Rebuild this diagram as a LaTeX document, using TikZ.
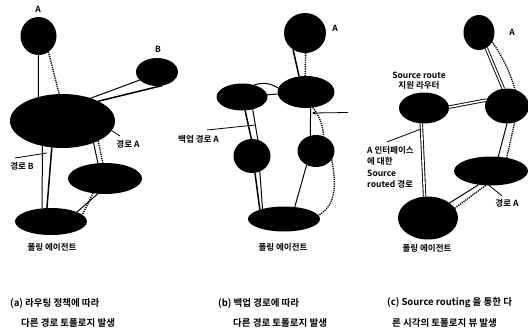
\documentclass[tikz,border=0pt]{standalone}
\usepackage{fontspec}
\setmainfont{Noto Sans CJK KR}[BoldFont={Noto Sans CJK KR Bold}]
\usetikzlibrary{shapes.geometric,arrows.meta}
\begin{document}
\begin{tikzpicture}[x=1pt,y=1pt,
  blob/.style={ellipse, fill=black, draw=none, inner sep=0pt, outer sep=0pt},
  link/.style={line width=1pt},
  thick link/.style={line width=1.5pt},
  dotlink/.style={line width=1.4pt, dash pattern=on 1.2pt off 1pt},
  dbl/.style={line width=0.9pt, double=white, double distance=1.6pt},
  lbl/.style={font=\bfseries\fontsize{8.5}{9.5}\selectfont, inner sep=0pt},
  captext/.style={font=\bfseries\fontsize{9.5}{11}\selectfont, inner sep=0pt, anchor=west},
  ptr/.style={line width=0.8pt},
  ptrtip/.style={-{Stealth[length=4pt,width=3.5pt]}},
]
\useasboundingbox (0,0) rectangle (528,-335);

% ---------- panel (a) ----------
\node[blob, minimum width=36, minimum height=38] (aA) at (38.5,-36) {};
\node[blob, minimum width=42, minimum height=28] (aB) at (157,-72) {};
\node[blob, minimum width=105, minimum height=54] (aBig) at (62.5,-121) {};
\node[blob, minimum width=74, minimum height=31] (aMid) at (105,-178.5) {};
\node[blob, minimum width=72, minimum height=27] (aBot) at (51,-221.5) {};
\node[lbl] (aLblA) at (38,-9) {A};
\node[lbl] (aLblB) at (158,-49) {B};

\draw[link] (aA.-90) -- (aBig.135);
\draw[dotlink] (aA.-58) -- (aBig.97);
\draw[link] (aBig.39) -- (aB.205);
\draw[thick link] (aBig.29) -- (aB.-68);
\draw[link] (aBig.231) -- (aBot.124);
\draw[thick link] (aBig.248) -- (aBot.107);
\draw[link] (aBig.-35) -- (aMid.115);
\draw[dotlink] (aBig.-29) -- (aMid.98);
\draw[link] (aMid.245) -- (aBot.20);
\draw[dotlink] (aMid.231) -- (aBot.12);

\node[lbl] (aLA) at (128,-144) {경로 A};
\coordinate (aPA) at (120,-136);
\draw[ptr] (aBig.-11) -- (aPA);
\node[lbl] (aLB) at (22,-166) {경로 B};
\coordinate (aPB1) at (15,-158);
\coordinate (aPB2) at (47,-153);
\draw[ptr] (aPB1) -- (aPB2);
\node[lbl] (aHome) at (52,-247) {폴링 에이전트};

% ---------- panel (b) ----------
\node[blob, minimum width=42, minimum height=40] (bA) at (305,-33) {};
\node[blob, minimum width=57, minimum height=32] (bR) at (306,-92) {};
\node[blob, minimum width=51, minimum height=27] (bL) at (242,-97) {};
\node[blob, minimum width=37, minimum height=34] (bLL) at (252,-156) {};
\node[blob, minimum width=37, minimum height=32] (bRL) at (316,-151) {};
\node[blob, minimum width=72, minimum height=25] (bBot) at (284,-219) {};
\node[lbl] (bLblA) at (335,-28) {A};

\draw[thick link] (bA.234) -- (bR.114);
\draw[dotlink] (bA.-88) -- (bR.93);
\draw[link] (bL.45) to[bend left=25] (bR.172);
\draw[link] (bL.5) -- (bR.184);
\draw[thick link] (bL.-77) -- (bLL.92);
\draw[link] (bL.-49) -- (bLL.70);
\draw[thick link] (bLL.-80) -- (bBot.159);
\draw[link] (bLL.-63) -- (bBot.155);
\draw[link] (bR.-74) -- (bRL.110);
\draw[dotlink] (bR.-66) to[bend left=15] (bRL.62);
\draw[link] (bRL.236) -- (bBot.48);
\draw[dotlink] (bRL.-28) to[out=-80, in=30] (bBot.6);

\node[lbl, anchor=east] (bLbl) at (219,-139) {백업 경로 A};
\coordinate (bP1) at (207,-130);
\coordinate (bP2) at (255,-125);
\draw[ptr] (bP1) -- (bP2);
\coordinate (bP3) at (348,-112.5);
\coordinate (bP4) at (312,-113);
\draw[ptr, ptrtip] (bP3) -- (bP4);
\node[lbl] (bHome) at (283,-247) {폴링 에이전트};

% ---------- panel (c) ----------
\node[blob, minimum width=31, minimum height=35] (cA) at (479,-32.5) {};
\node[blob, minimum width=50, minimum height=31] (cR) at (424,-108) {};
\node[blob, minimum width=44, minimum height=35] (cRt) at (507,-106) {};
\node[blob, minimum width=74, minimum height=29] (cRL) at (491,-171) {};
\node[blob, minimum width=60, minimum height=43] (cBot) at (428,-218) {};
\node[lbl] (cLblA) at (512,-32) {A};

\draw[dbl] (cA.-65) -- (cRt.102);
\draw[dotlink] (cA.-35) to[bend left=8] (cRt.63);
\draw[dbl] (cR.2) -- (cRt.164);
\draw[dbl] (cR.-100) -- (cBot.99);
\draw[link] (cRt.-90) -- (cRL.63);
\draw[dotlink] (cRt.-65) -- (cRL.40);
\draw[link] (cRL.228) -- (cBot.35);
\draw[dotlink] (cRL.250) -- (cBot.20);

\node[lbl, align=center] (cLR) at (419,-80.5) {Source route\\지원 라우터};
\node[lbl, align=left, anchor=north west, font=\bfseries\fontsize{8.5}{11.5}\selectfont] (cLI) at (367,-146) {A 인터페이스\\에 대한\\Source\\routed 경로};
\coordinate (cP1) at (387,-142);
\coordinate (cP2) at (421,-129);
\draw[ptr] (cP1) -- (cP2);
\node[lbl] (cLA) at (507,-203) {경로 A};
\coordinate (cP3) at (502,-196);
\coordinate (cP4) at (485,-182);
\draw[ptr, ptrtip] (cP3) -- (cP4);
\node[lbl] (cHome) at (427,-248) {폴링 에이전트};

% ---------- captions ----------
\node[captext] (capA1) at (10,-303) {(a) 라우팅 정책에 따라};
\node[captext] (capA2) at (21,-323) {다른 경로 토폴로지 발생};
\node[captext] (capB1) at (218,-303) {(b) 백업 경로에 따라};
\node[captext] (capB2) at (233,-323) {다른 경로 토폴로지 발생};
\node[captext] (capC1) at (387,-303) {(c) Source routing 을 통한 다};
\node[captext] (capC2) at (392,-323) {른 시각의 토폴로지 뷰 발생};
\end{tikzpicture}
\end{document}
